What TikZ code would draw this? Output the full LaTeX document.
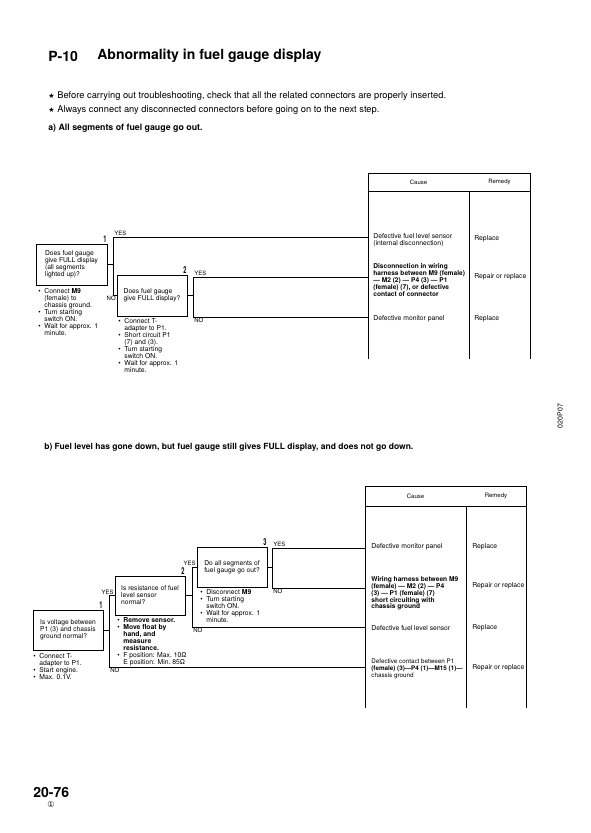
\documentclass[tikz,border=0pt]{standalone}
\usepackage{fontspec}
\setmainfont{TeX Gyre Heros}
\newfontfamily\symfont{DejaVu Sans}
\newcommand{\itm}{\makebox[6pt][l]{\textbullet}}
\newcommand{\cnt}{\hspace*{6pt}}
\newcommand{\stepno}[1]{\scalebox{0.6}[1]{\fontsize{9.5}{10}\selectfont\bfseries #1}}

\begin{document}
\begin{tikzpicture}[x=1pt, y=-1pt, line width=0.7pt,
    txt/.style={anchor=west, align=left, inner sep=0pt, font=\fontsize{6.8}{7}\selectfont},
    qbox/.style={draw, align=left, inner sep=0pt, minimum width=70, minimum height=40, font=\fontsize{6.7}{7}\selectfont},
    lbl/.style={inner sep=0.6pt, font=\fontsize{6}{7}\selectfont},
    num/.style={anchor=south east, inner sep=0.5pt},
    head/.style={anchor=west, inner sep=0pt, font=\fontsize{8.8}{10}\selectfont\bfseries}]

    \useasboundingbox (0,0) rectangle (591,833);

    % Page heading
    \node[anchor=west, inner sep=0pt, font=\fontsize{14}{16}\selectfont\bfseries] (code) at (48,56) {P-10};
    \node[anchor=west, inner sep=0pt, font=\fontsize{14}{16}\selectfont\bfseries] (title) at (97,56) {Abnormality in fuel gauge display};
    \node[anchor=west, inner sep=0pt, font=\symfont\fontsize{7}{8}\selectfont] (star1) at (48,96) {★};
    \node[anchor=west, inner sep=0pt, font=\fontsize{9.3}{10}\selectfont] (note1) at (57,96) {Before carrying out troubleshooting, check that all the related connectors are properly inserted.};
    \node[anchor=west, inner sep=0pt, font=\symfont\fontsize{7}{8}\selectfont] (star2) at (48,110) {★};
    \node[anchor=west, inner sep=0pt, font=\fontsize{9.3}{10}\selectfont] (note2) at (57,110) {Always connect any disconnected connectors before going on to the next step.};

    % a) All segments go out
    \node[head] (secA) at (48,128) {a)\ All segments of fuel gauge go out.};

    % Cause / remedy table a
    \draw (368,173) rectangle (530,191);
    \draw (368,191) -- (368,359);
    \draw (469,191) -- (469,359);
    \draw (530,191) -- (530,359);
    \node[lbl] (causeA) at (418.5,182) {Cause};
    \node[lbl] (remA) at (499.5,182) {Remedy};

    \coordinate (rA1) at (368,237);
    \coordinate (rA2) at (368,277);
    \coordinate (rA3) at (368,317);

    \node[txt] (cA1) at (373,240) {Defective fuel level sensor\\(internal disconnection)};
    \node[txt] (mA1) at (474,239) {Replace};
    \node[txt, font=\fontsize{6.6}{6.8}\selectfont\bfseries] (cA2) at (373,280) {Disconnection in wiring\\harness between M9 (female)\\--- M2 (2) --- P4 (3) --- P1\\(female) (7), or defective\\contact of connector};
    \node[txt] (mA2) at (474,277) {Repair or replace};
    \node[txt] (cA3) at (373,319) {Defective monitor panel};
    \node[txt] (mA3) at (474,319) {Replace};

    % Question boxes a
    \node[qbox, minimum width=71, minimum height=41] (qA1) at (71.5,264.5) {Does fuel gauge\\give FULL display\\(all segments\\lighted up)?};
    \node[qbox, minimum height=41] (qA2) at (152,295.5) {Does fuel gauge\\give FULL display?};
    \node[num] at (qA1.north east) {\stepno{1}};
    \node[num] at (qA2.north east) {\stepno{2}};

    \node[txt] (tA1) at (38,312) {\itm Connect \textbf{M9}\\\cnt (female) to\\\cnt chassis ground.\\\itm Turn starting\\\cnt switch ON.\\\itm Wait for approx. 1\\\cnt minute.};
    \node[txt] (tA2) at (118,346) {\itm Connect T-\\\cnt adapter to P1.\\\itm Short circuit P1\\\cnt (7) and (3).\\\itm Turn starting\\\cnt switch ON.\\\itm Wait for approx. 1\\\cnt minute.};

    % Branches a
    \path (qA1.east) ++(6,0) coordinate (jA1);
    \path (qA2.east) ++(6,0) coordinate (jA2);
    \draw (qA1.east) -- (jA1);
    \draw (rA1) -| (qA2.west -| jA1) -- (qA2.west);
    \draw (qA2.east) -- (jA2);
    \draw (rA2) -| (jA2 |- rA3) -- (rA3);
    \node[lbl, anchor=south west] at (jA1 |- rA1) {YES};
    \node[lbl, anchor=north east] at (qA2.west) {NO};
    \node[lbl, anchor=south west] at (jA2 |- rA2) {YES};
    \node[lbl, anchor=north west] at (jA2 |- rA3) {NO};

    % b) Gauge stays at FULL
    \node[head, font=\fontsize{8.5}{10}\selectfont\bfseries] (secB) at (44,447) {b)\ Fuel level has gone down, but fuel gauge still gives FULL display, and does not go down.};

    % Cause / remedy table b
    \draw (365,486) rectangle (526,506);
    \draw (365,506) -- (365,708);
    \draw (466,506) -- (466,708);
    \draw (526,506) -- (526,708);
    \node[lbl] (causeB) at (415.5,496) {Cause};
    \node[lbl] (remB) at (496,496) {Remedy};

    \coordinate (rB1) at (365,548);
    \coordinate (rB2) at (365,588);
    \coordinate (rB3) at (365,627.5);
    \coordinate (rB4) at (365,667);

    \node[txt] (cB1) at (371,547) {Defective monitor panel};
    \node[txt] (mB1) at (472,547) {Replace};
    \node[txt, font=\fontsize{6.6}{6.8}\selectfont\bfseries] (cB2) at (371,593.5) {Wiring harness between M9\\(female) --- M2 (2) --- P4\\(3) --- P1 (female) (7)\\short circuiting with\\chassis ground};
    \node[txt] (mB2) at (472,586) {Repair or replace};
    \node[txt] (cB3) at (371,628) {Defective fuel level sensor};
    \node[txt] (mB3) at (472,628) {Replace};
    \node[txt, font=\fontsize{6.3}{7}\selectfont] (cB4) at (371,669) {Defective contact between P1\\\textbf{(female) (3)---P4 (1)---M15 (1)---}\\chassis ground};
    \node[txt] (mB4) at (472,668) {Repair or replace};

    % Question boxes b
    \node[qbox] (qB1) at (68,630) {Is voltage between\\P1 (3) and chassis\\ground normal?};
    \node[qbox, minimum height=39] (qB2) at (150,595.5) {Is resistance of fuel\\level sensor\\normal?};
    \node[qbox] (qB3) at (232,567) {Do all segments of\\fuel gauge go out?};
    \node[num] at (qB1.north east) {\stepno{1}};
    \node[num] at (qB2.north east) {\stepno{2}};
    \node[num] at (qB3.north east) {\stepno{3}};

    \node[txt] (tB1) at (33,667) {\itm Connect T-\\\cnt adapter to P1.\\\itm Start engine.\\\itm Max. 0.1V.};
    \node[txt] (tB2) at (117,642) {\itm \textbf{Remove sensor.}\\\itm \textbf{Move float by}\\\cnt \textbf{hand, and}\\\cnt \textbf{measure}\\\cnt \textbf{resistance.}\\\itm F position: Max.\ 10Ω\\\cnt E position: Min.\ 85Ω};
    \node[txt] (tB3) at (200,606.5) {\itm Disconnect \textbf{M9}\\\itm Turn starting\\\cnt switch ON.\\\itm Wait for approx. 1\\\cnt minute.};

    % Branches b
    \path (qB1.east) ++(6,0) coordinate (jB1);
    \path (qB2.east) ++(7,0) coordinate (jB2);
    \path (qB3.east) ++(5,0) coordinate (jB3);
    \draw (qB1.east) -- (jB1);
    \draw (qB2.west) -| (jB1 |- rB4) -- (rB4);
    \draw (qB2.east) -- (jB2);
    \draw (qB3.west) -| (jB2 |- rB3) -- (rB3);
    \draw (qB3.east) -- (jB3);
    \draw (rB1) -| (jB3 |- rB2) -- (rB2);
    \node[lbl, anchor=south east] at (qB2.west) {YES};
    \node[lbl, anchor=north west] at (jB1 |- rB4) {NO};
    \node[lbl, anchor=south east] at (qB3.west) {YES};
    \node[lbl, anchor=north west] at (jB2 |- rB3) {NO};
    \node[lbl, anchor=south west] at (jB3 |- rB1) {YES};
    \node[lbl, anchor=north west] at (jB3 |- rB2) {NO};

    % Figure code and page number
    \node[rotate=90, inner sep=0pt, font=\fontsize{7}{8}\selectfont] (figcode) at (560,416) {020P07};
    \node[anchor=west, inner sep=0pt, font=\fontsize{14}{16}\selectfont\bfseries] (page) at (33,792) {20-76};
    \node[inner sep=0pt, font=\symfont\fontsize{8}{9}\selectfont] (rev) at (51,805) {①};

\end{tikzpicture}
\end{document}
